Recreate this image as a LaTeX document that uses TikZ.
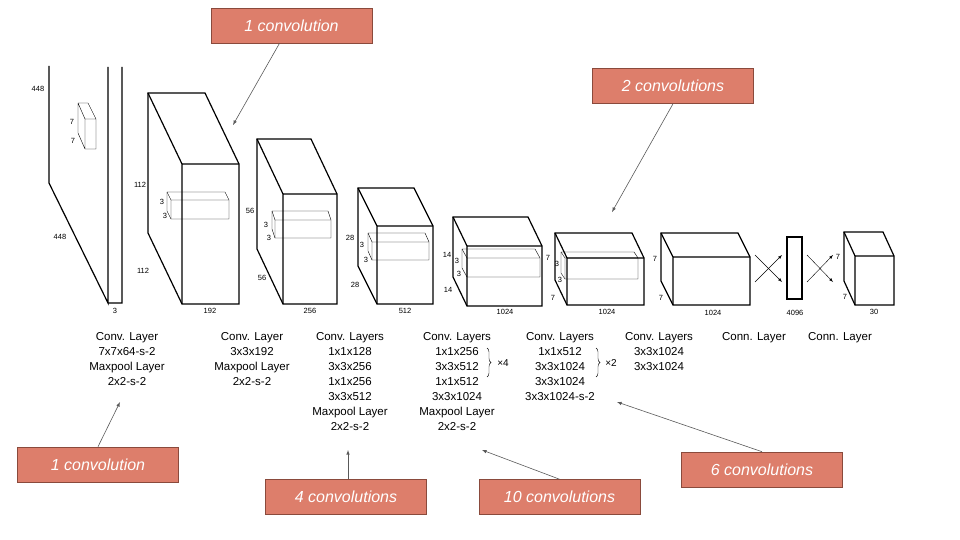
\documentclass[tikz,border=0pt]{standalone}
\usepackage{fontspec}
\setmainfont{Liberation Sans}
\usetikzlibrary{decorations.pathreplacing}
\definecolor{rbox}{HTML}{DD7E6B}
\definecolor{rdraw}{HTML}{8A4A3C}
\newcommand\mycub[7][line width=1.2pt]{%
 \draw[#1] (#2,#3) -- ++(#6,0) -- ++(#4,#5) -- ++(0,#7) -- ++(-#6,0) -- ++(-#4,-#5) -- cycle;
 \draw[#1] (#2,#3) -- ++(#4,#5) -- ++(#6,0) (#2,#3) ++(#4,#5) -- ++(0,#7);}
\begin{document}
\begin{tikzpicture}[x=1pt,y=-1pt,
 dim/.style={font=\fontsize{7.5}{9}\selectfont,inner sep=0pt},
 lab/.style={font=\fontsize{11.5}{15}\selectfont,align=center,anchor=north,inner sep=0pt},
 red/.style={fill=rbox,draw=rdraw,line width=0.6pt,minimum width=161pt,minimum height=35pt,text=white,font=\fontsize{16}{18}\selectfont\itshape,inner sep=0pt},
 pt/.style={-latex,draw=black!65,line width=0.6pt}]
\useasboundingbox (0,0) rectangle (960,540);
% input plane
\draw[line width=1.2pt] (49,66) -- (49,183) -- (108,303) -- (108,67) (122,67) -- (122,303) -- (108,303);
\draw[thin] (78,103) -- (88,103) -- (96,119) -- (96,149) -- (85,149) -- (78,133) -- cycle (78,103) -- (85,119) -- (96,119) (85,119) -- (85,149);
\node[dim] (i7a) at (72,122) {7};
\node[dim] (i7b) at (73,141) {7};
\node[dim] (i448a) at (38,89) {448};
\node[dim] (i448b) at (60,237) {448};
\node[dim] (i3) at (115,311) {3};
% cubes
\mycub{148}{93}{34}{71}{57}{140}
\mycub[thin]{167}{192}{4}{8}{58}{19}
\node[dim] (a1) at (140,185) {112}; \node[dim] (a2) at (143,271) {112};
\node[dim] (a3) at (210,311) {192};
\node[dim] (a4) at (162,202) {3}; \node[dim] (a5) at (165,216) {3};
\mycub{257}{139}{26}{55}{54}{110}
\mycub[thin]{272}{211}{3}{9}{56}{18}
\node[dim] (b1) at (250,211) {56}; \node[dim] (b2) at (262,278) {56};
\node[dim] (b3) at (310,311) {256};
\node[dim] (b4) at (266,225) {3}; \node[dim] (b5) at (269,238) {3};
\mycub{358}{188}{19}{38}{56}{78}
\mycub[thin]{368}{233}{4}{9}{57}{18}
\node[dim] (c1) at (350,238) {28}; \node[dim] (c2) at (355,285) {28};
\node[dim] (c3) at (405,311) {512};
\node[dim] (c4) at (362,245) {3}; \node[dim] (c5) at (366,260) {3};
\mycub{453}{217}{14}{29}{75}{60}
\mycub[thin]{462}{249}{5}{9}{73}{19}
\node[dim] (d1) at (447,255) {14}; \node[dim] (d2) at (448,290) {14};
\node[dim] (d3) at (505,312) {1024};
\node[dim] (d4) at (457,261) {3}; \node[dim] (d5) at (459,274) {3};
\mycub{555}{233}{12}{25}{77}{47}
\mycub[thin]{561}{252}{4}{6}{73}{21}
\node[dim] (e1) at (548,258) {7}; \node[dim] (e2) at (553,298) {7};
\node[dim] (e3) at (607,312) {1024};
\node[dim] (e4) at (557,264) {3}; \node[dim] (e5) at (560,280) {3};
\mycub{661}{233}{12}{24}{77}{48}
\node[dim] (f1) at (655,259) {7}; \node[dim] (f2) at (661,298) {7};
\node[dim] (f3) at (713,313) {1024};
\draw[line width=1.2pt] (787,237) rectangle (802,299);
\node[dim] (g1) at (795,313) {4096};
\mycub{844}{232}{11}{24}{39}{49}
\node[dim] (h1) at (838,257) {7}; \node[dim] (h2) at (845,297) {7};
\node[dim] (h3) at (874,312) {30};
% crosses
\coordinate (x1) at (755,255); \coordinate (x2) at (782,282);
\coordinate (x3) at (755,282); \coordinate (x4) at (782,255);
\draw[-latex,thin] (x1) -- (x2); \draw[-latex,thin] (x3) -- (x4);
\coordinate (y1) at (807,255); \coordinate (y2) at (833,282);
\coordinate (y3) at (807,282); \coordinate (y4) at (833,255);
\draw[-latex,thin] (y1) -- (y2); \draw[-latex,thin] (y3) -- (y4);
% labels
\node[lab] (l1) at (127,332) {Conv. Layer\\7x7x64-s-2\\Maxpool Layer\\2x2-s-2};
\node[lab] (l2) at (252,332) {Conv. Layer\\3x3x192\\Maxpool Layer\\2x2-s-2};
\node[lab] (l3) at (350,332) {Conv. Layers\\1x1x128\\3x3x256\\1x1x256\\3x3x512\\Maxpool Layer\\2x2-s-2};
\node[lab] (l4) at (457,332) {Conv. Layers\\1x1x256\\3x3x512\\1x1x512\\3x3x1024\\Maxpool Layer\\2x2-s-2};
\node[lab] (l5) at (560,332) {Conv. Layers\\1x1x512\\3x3x1024\\3x3x1024\\3x3x1024-s-2};
\node[lab] (l6) at (659,332) {Conv. Layers\\3x3x1024\\3x3x1024};
\node[lab] (l7) at (754,332) {Conn. Layer};
\node[lab] (l8) at (840,332) {Conn. Layer};
\coordinate (br1a) at (487,348); \coordinate (br1b) at (487,377);
\draw[decorate,decoration={brace,amplitude=4pt}] (br1a) -- (br1b);
\node[font=\fontsize{10}{12}\selectfont,inner sep=0pt] (x4t) at (503,363) {×4};
\coordinate (br2a) at (596,348); \coordinate (br2b) at (596,377);
\draw[decorate,decoration={brace,amplitude=4pt}] (br2a) -- (br2b);
\node[font=\fontsize{10}{12}\selectfont,inner sep=0pt] (x2t) at (611,363) {×2};
% red boxes
\node[red] (r1) at (291.5,25.5) {1 convolution};
\node[red] (r2) at (673,86) {2 convolutions};
\node[red] (r3) at (98,464.5) {1 convolution};
\node[red] (r4) at (346,497) {4 convolutions};
\node[red] (r5) at (559.5,497) {10 convolutions};
\node[red] (r6) at (762,469.5) {6 convolutions};
\coordinate (t1) at (233,125); \coordinate (t2) at (612,212);
\coordinate (t3) at (120,402); \coordinate (t4) at (348,450);
\coordinate (t5) at (482,450); \coordinate (t6) at (617,402);
\draw[pt] (r1.south) ++(-12,0) -- (t1);
\draw[pt] (r2.south) -- (t2);
\draw[pt] (r3.north) -- (t3);
\draw[pt] (r4.north) ++(2,0) -- (t4);
\draw[pt] (r5.north) -- (t5);
\draw[pt] (r6.north) -- (t6);
\end{tikzpicture}
\end{document}
